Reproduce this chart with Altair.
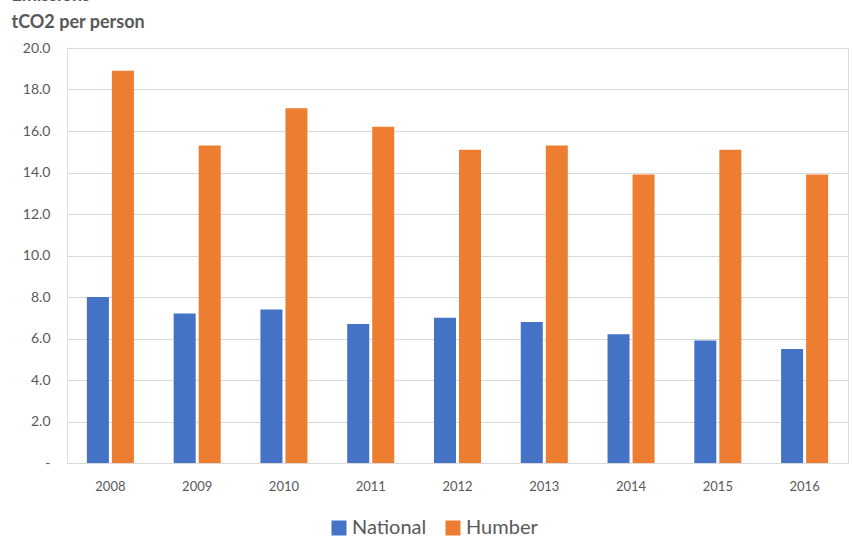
import altair as alt
import pandas as pd

years = ["2008", "2009", "2010", "2011", "2012", "2013", "2014", "2015", "2016"]
national = [8.0, 7.2, 7.4, 6.7, 7.0, 6.8, 6.2, 5.9, 5.5]
humber = [18.9, 15.3, 17.1, 16.2, 15.1, 15.3, 13.9, 15.1, 13.9]
series = ["National", "Humber"]
colors = ["#4472C4", "#ED7D31"]
y_ticks = [0, 2, 4, 6, 8, 10, 12, 14, 16, 18, 20]

rows = []
for i, y in enumerate(years):
    rows.append({"year": y, "series": "National", "value": national[i]})
    rows.append({"year": y, "series": "Humber", "value": humber[i]})
df = pd.DataFrame(rows)

FONT = "Lato"
GREY = "#595959"

chart = alt.Chart(df).mark_bar().encode(
    x=alt.X("year:N", sort=years,
            scale=alt.Scale(paddingInner=0.458, paddingOuter=0.229),
            axis=alt.Axis(title=None, labelAngle=0, labelFontSize=13, labelColor=GREY,
                          labelFont=FONT, labelPadding=17, ticks=False, domain=False, grid=False)),
    xOffset=alt.XOffset("series:N", sort=series, scale=alt.Scale(paddingInner=0.12)),
    y=alt.Y("value:Q",
            scale=alt.Scale(domain=[0, 20], nice=False),
            axis=alt.Axis(values=y_ticks, labelExpr="datum.value == 0 ? '-' : format(datum.value, '.1f')",
                          labelFontSize=14, labelColor=GREY, labelFont=FONT, labelPadding=17,
                          ticks=False, domain=False, grid=True, gridColor="#d9d9d9", gridWidth=1,
                          title=["Emissions", "tCO2 per person"], titleAngle=0, titleAlign="left",
                          titleBaseline="bottom", titleX=-56, titleY=-44, titleFontSize=18,
                          titleFont=FONT, titleFontWeight="bold", titleColor=GREY, titleLineHeight=27)),
    color=alt.Color("series:N", sort=series,
                    scale=alt.Scale(domain=series, range=colors),
                    legend=alt.Legend(title=None, orient="none", direction="horizontal",
                                      legendX=262, legendY=470, symbolType="square", symbolSize=225,
                                      symbolStrokeWidth=0, labelFontSize=20, labelFont=FONT,
                                      labelColor=GREY, columnPadding=16, labelOffset=3)),
).properties(
    width=781, height=415,
    autosize=alt.AutoSizeParams(type="none"),
    padding={"left": 67, "top": 48, "right": 4, "bottom": 75},
).configure_view(stroke=None).configure(background="white")

chart.save("out.html", embed_options={"renderer": "svg", "actions": False})
